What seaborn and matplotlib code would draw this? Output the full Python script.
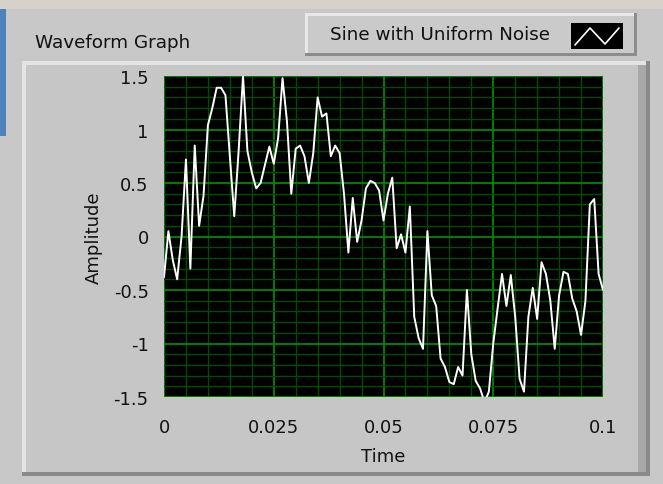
import numpy as np
import pandas as pd
import matplotlib
matplotlib.use("Agg")
import matplotlib.pyplot as plt
import seaborn as sns
from matplotlib.patches import Rectangle
from matplotlib.lines import Line2D
from matplotlib.ticker import MultipleLocator

# waveform: sine with uniform noise, sampled every 1 ms
t0 = 0.0
dt = 0.001
amplitude = [
    -0.38, 0.05, -0.22, -0.40, 0.00, 0.72, -0.30, 0.85, 0.10, 0.38,
    1.04, 1.20, 1.39, 1.39, 1.32, 0.75, 0.19, 0.80, 1.50, 0.80,
    0.60, 0.45, 0.50, 0.67, 0.84, 0.68, 0.92, 1.48, 1.08, 0.40,
    0.82, 0.85, 0.75, 0.50, 0.78, 1.30, 1.12, 1.15, 0.75, 0.85,
    0.78, 0.40, -0.15, 0.36, -0.05, 0.15, 0.45, 0.52, 0.50, 0.43,
    0.15, 0.40, 0.55, -0.11, 0.02, -0.15, 0.28, -0.75, -0.95, -1.05,
    0.05, -0.55, -0.65, -1.14, -1.22, -1.36, -1.38, -1.22, -1.30, -0.50,
    -1.10, -1.35, -1.42, -1.55, -1.45, -1.00, -0.67, -0.35, -0.65, -0.36,
    -0.75, -1.33, -1.45, -0.75, -0.48, -0.77, -0.24, -0.35, -0.60, -1.05,
    -0.55, -0.33, -0.35, -0.58, -0.70, -0.92, -0.60, 0.30, 0.35, -0.35,
    -0.50,
]
df = pd.DataFrame({"Time": t0 + dt * np.arange(len(amplitude)), "Amplitude": amplitude})

x_ticks = [0, 0.025, 0.05, 0.075, 0.1]
x_tick_labels = ["0", "0.025", "0.05", "0.075", "0.1"]
y_ticks = [-1.5, -1, -0.5, 0, 0.5, 1, 1.5]
y_tick_labels = ["-1.5", "-1", "-0.5", "0", "0.5", "1", "1.5"]

sns.set_style("white")
plt.rcParams["font.family"] = ["DejaVu Sans"]

W, H = 663, 485
fig = plt.figure(figsize=(W / 100, H / 100), dpi=100)
fig.patch.set_facecolor("#c8c8c8")


def fx(x):
    return x / W


def fy(y):
    return 1 - y / H


def rect(x0, y0, x1, y1, color, z=0):
    fig.patches.append(Rectangle((fx(x0), fy(y1)), fx(x1) - fx(x0), fy(y0) - fy(y1),
                                 transform=fig.transFigure, facecolor=color,
                                 edgecolor="none", zorder=z))


def bevel(x0, y0, x1, y1, light, dark, w):
    rect(x0, y0, x1, y0 + w, light, 1)
    rect(x0, y0, x0 + w, y1, light, 1)
    rect(x0, y1 - w, x1, y1, dark, 1)
    rect(x1 - w, y0, x1, y1, dark, 1)


# window chrome
rect(0, 0, W, 10, "#d6d2ca")
rect(0, 10, 6, 137, "#4f81bd")

# graph frame
rect(22, 62, 650, 477, "#c6c6c6")
bevel(22, 62, 650, 477, "#e4e4e4", "#8a8a8a", 4)
rect(638, 66, 646, 473, "#a8a8a8", 2)

# legend box
rect(305, 14, 637, 57, "#cacaca")
bevel(305, 14, 637, 57, "#e8e8e8", "#8c8c8c", 3)
rect(571, 24, 623, 50, "black", 2)
fig.lines.append(Line2D([fx(575), fx(590), fx(605), fx(619)],
                        [fy(46), fy(29), fy(45), fy(29)],
                        transform=fig.transFigure, color="white", lw=1.2, zorder=3))
fig.text(fx(330), fy(35), "Sine with Uniform Noise", fontsize=13.2,
         color="#111111", va="center", ha="left")
fig.text(fx(35), fy(43), "Waveform Graph", fontsize=13.2,
         color="#111111", va="center", ha="left")

# plot area
ax = fig.add_axes([fx(164), fy(398), fx(603) - fx(164), fy(77) - fy(398)])
ax.set_facecolor("black")
ax.set_zorder(5)

sns.lineplot(data=df, x="Time", y="Amplitude", color="white", lw=1.4, ax=ax)

ax.set_xlim(0, 0.1)
ax.set_ylim(-1.5, 1.5)
ax.xaxis.set_minor_locator(MultipleLocator(0.005))
ax.yaxis.set_minor_locator(MultipleLocator(0.1))
ax.set_xticks(x_ticks)
ax.set_xticklabels(x_tick_labels)
ax.set_yticks(y_ticks)
ax.set_yticklabels(y_tick_labels)
ax.grid(which="minor", color="#004c00", lw=1.0)
ax.grid(which="major", color="#008800", lw=1.3)
ax.set_axisbelow(True)
ax.tick_params(which="major", length=7, width=1, color="#222222",
               labelsize=13, labelcolor="#111111", pad=4)
ax.tick_params(axis="x", which="major", pad=8)
ax.tick_params(which="minor", length=0)
for s in ax.spines.values():
    s.set_visible(False)

ax.set_xlabel("Time", fontsize=13, color="#111111", labelpad=8)
ax.set_ylabel("Amplitude", fontsize=13, color="#111111", labelpad=8)

fig.savefig("out.png", dpi=100, facecolor=fig.get_facecolor())
